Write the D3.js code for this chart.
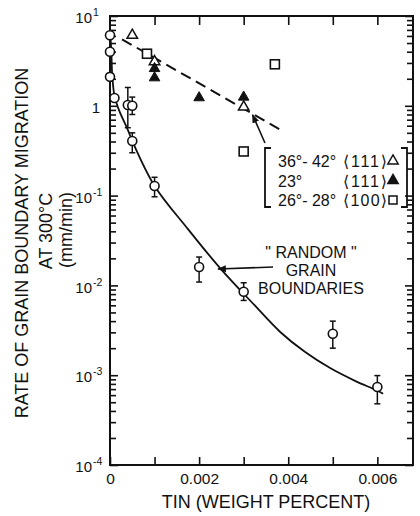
<!DOCTYPE html>
<html>
<head>
<meta charset="utf-8">
<script src="https://cdn.jsdelivr.net/npm/d3@7"></script>
<style>
  body { margin: 0; background: #fff; }
</style>
</head>
<body>
<div id="chart"></div>
<script>
// "random" grain boundaries (open circles) with error bars
const randomX = [0, 0, 0, 0.0001, 0.0004, 0.0005, 0.0005, 0.001, 0.002, 0.003, 0.005, 0.006];
const randomY = [6.1, 4.0, 2.1, 1.22, 1.02, 1.0, 0.405, 0.128, 0.016, 0.0085, 0.0029, 0.00074];
const randomLo = [null, null, null, null, 0.57, 0.8, 0.3, 0.097, 0.0109, 0.0068, 0.0020, 0.00048];
const randomHi = [null, null, null, null, 1.6, 1.25, 0.5, 0.16, 0.0207, 0.0107, 0.0040, 0.00099];

// 36-42 deg <111> (open triangles)
const tri111X = [0.0005, 0.001, 0.003];
const tri111Y = [6.1, 3.1, 0.97];
// 23 deg <111> (filled triangles)
const fill111X = [0.001, 0.001, 0.002, 0.003];
const fill111Y = [2.6, 2.05, 1.23, 1.25];
// 26-28 deg <100> (open squares)
const sq100X = [0.00083, 0.0037, 0.003];
const sq100Y = [3.8, 2.9, 0.31];

// fitted lines
const dashX = [0.00027, 0.0038];
const dashY = [5.5, 0.55];
const curveX = [0, 0.00003, 0.00005, 0.0001, 0.0002, 0.0004, 0.0005, 0.001, 0.00173, 0.00247, 0.00326, 0.00382, 0.00438, 0.00494, 0.00551, 0.00598, 0.00613];
const curveY = [7, 4, 2.2, 1.3, 0.9, 0.54, 0.405, 0.128, 0.0436, 0.0156, 0.0059, 0.00303, 0.00181, 0.0012, 0.00086, 0.00068, 0.00062];

// ticks
const xTicks = [0, 0.001, 0.002, 0.003, 0.004, 0.005, 0.006];
const xTickLabels = ["0", "", "0.002", "", "0.004", "", "0.006"];
const yDecades = [10, 1, 0.1, 0.01, 0.001, 0.0001];
const yExponents = ["1", "", "-1", "-2", "-3", "-4"];

const width = 420, height = 516;
const font = "'Liberation Sans', Arial, Helvetica, 'DejaVu Sans', sans-serif";
const ink = "#111";

const x = d3.scaleLinear().domain([0, 0.0068]).range([110, 413]);
const y = d3.scaleLog().domain([1e-4, 10]).range([465, 16]);

const svg = d3.select("#chart").append("svg")
    .attr("width", width)
    .attr("height", height)
    .style("font-family", font);

const defs = svg.append("defs");
defs.append("marker")
    .attr("id", "arrow")
    .attr("viewBox", "0 0 10 8")
    .attr("refX", 9).attr("refY", 4)
    .attr("markerWidth", 9).attr("markerHeight", 7)
    .attr("markerUnits", "userSpaceOnUse")
    .attr("orient", "auto")
    .append("path").attr("d", "M0,0 L10,4 L0,8 z").attr("fill", ink);

// frame
svg.append("rect")
    .attr("x", x.range()[0]).attr("y", y.range()[1])
    .attr("width", x.range()[1] - x.range()[0])
    .attr("height", y.range()[0] - y.range()[1])
    .attr("fill", "none").attr("stroke", ink).attr("stroke-width", 2);

// minor log ticks
const yMinor = [];
yDecades.slice(1).forEach(d => { for (let k = 2; k <= 9; k++) yMinor.push(d * k); });

function styleAxis(g) {
    g.select(".domain").remove();
    g.selectAll(".tick line").attr("stroke", ink).attr("stroke-width", 1.6);
}

svg.append("g").attr("transform", `translate(0,${y.range()[0]})`)
    .call(d3.axisBottom(x).tickValues(xTicks).tickSizeInner(-8).tickSizeOuter(0).tickPadding(8)
        .tickFormat((d, i) => xTickLabels[i]))
    .call(styleAxis)
    .call(g => g.selectAll("text").attr("font-size", 15.5).attr("fill", ink).attr("font-family", font));

svg.append("g").attr("transform", `translate(0,${y.range()[1]})`)
    .call(d3.axisTop(x).tickValues(xTicks.slice(1)).tickSizeInner(-9).tickSizeOuter(0).tickFormat(""))
    .call(styleAxis);

[[d3.axisLeft, x.range()[0]], [d3.axisRight, x.range()[1]]].forEach(([ax, px]) => {
    svg.append("g").attr("transform", `translate(${px},0)`)
        .call(ax(y).tickValues(yMinor).tickSizeInner(-6).tickSizeOuter(0).tickFormat(""))
        .call(styleAxis);
    svg.append("g").attr("transform", `translate(${px},0)`)
        .call(ax(y).tickValues(yDecades).tickSizeInner(-8).tickSizeOuter(0).tickFormat(""))
        .call(styleAxis);
});

// y tick labels: 10 with superscript exponent
const yLab = svg.append("g").attr("fill", ink)
    .selectAll("g").data(yDecades).join("g")
    .attr("transform", d => `translate(0,${y(d)})`);
yLab.append("text")
    .attr("x", (d, i) => yExponents[i] ? 92 : 100)
    .attr("y", 2).attr("dy", "0.35em")
    .attr("text-anchor", "end").attr("font-size", 15)
    .text((d, i) => yExponents[i] ? "10" : "1");
yLab.append("text")
    .attr("x", 93).attr("y", -3.5).attr("dy", "0.35em")
    .attr("font-size", 10.5)
    .text((d, i) => yExponents[i]);

// axis titles
svg.append("text")
    .attr("x", 266).attr("y", 508)
    .attr("text-anchor", "middle").attr("font-size", 18).attr("fill", ink)
    .text("TIN (WEIGHT PERCENT)");

const yTitles = [["RATE OF GRAIN BOUNDARY MIGRATION", 22, 243], ["AT 300\u00B0C", 46, 231], ["(mm/min)", 66, 230]];
svg.append("g").selectAll("text").data(yTitles).join("text")
    .attr("transform", d => `translate(${d[1]},${d[2]}) rotate(-90)`)
    .attr("text-anchor", "middle").attr("dy", "0.35em")
    .attr("font-size", 18).attr("fill", ink)
    .text(d => d[0]);

// fitted curve and dashed line
svg.append("path")
    .datum(curveX.map((v, i) => [v, curveY[i]]))
    .attr("d", d3.line().x(d => x(d[0])).y(d => y(d[1])).curve(d3.curveCatmullRom.alpha(0.5)))
    .attr("fill", "none").attr("stroke", ink).attr("stroke-width", 1.8);
svg.append("path")
    .datum(dashX.map((v, i) => [v, dashY[i]]))
    .attr("d", d3.line().x(d => x(d[0])).y(d => y(d[1])))
    .attr("fill", "none").attr("stroke", ink).attr("stroke-width", 2)
    .attr("stroke-dasharray", "11,6");

// error bars
const eb = svg.append("g").attr("stroke", ink).attr("stroke-width", 1.5);
randomX.forEach((xv, i) => {
    if (randomLo[i] == null) return;
    const px = x(xv);
    eb.append("line").attr("x1", px).attr("x2", px).attr("y1", y(randomLo[i])).attr("y2", y(randomHi[i]));
    [randomLo[i], randomHi[i]].forEach(v => {
        eb.append("line").attr("x1", px - 3).attr("x2", px + 3).attr("y1", y(v)).attr("y2", y(v));
    });
});

// markers
svg.append("g").selectAll("circle").data(randomX).join("circle")
    .attr("cx", d => x(d)).attr("cy", (d, i) => y(randomY[i])).attr("r", 4.5)
    .attr("fill", "#fff").attr("stroke", ink).attr("stroke-width", 1.6);

const triSym = d3.symbol(d3.symbolTriangle, 48);
svg.append("g").selectAll("path").data(tri111X).join("path")
    .attr("transform", (d, i) => `translate(${x(d)},${y(tri111Y[i])})`)
    .attr("d", triSym).attr("fill", "#fff").attr("stroke", ink).attr("stroke-width", 1.5);
svg.append("g").selectAll("path").data(fill111X).join("path")
    .attr("transform", (d, i) => `translate(${x(d)},${y(fill111Y[i])})`)
    .attr("d", triSym).attr("fill", ink).attr("stroke", ink).attr("stroke-width", 1);
svg.append("g").selectAll("rect").data(sq100X).join("rect")
    .attr("x", d => x(d) - 4.5).attr("y", (d, i) => y(sq100Y[i]) - 4.5)
    .attr("width", 9).attr("height", 9)
    .attr("fill", "#fff").attr("stroke", ink).attr("stroke-width", 1.6);

// "RANDOM" annotation
const ann = svg.append("g").attr("fill", ink).attr("font-size", 16).attr("text-anchor", "middle");
["\" RANDOM \"", "GRAIN", "BOUNDARIES"].forEach((t, i) => {
    ann.append("text").attr("x", 311).attr("y", 258 + i * 18).text(t);
});
svg.append("line")
    .attr("x1", 273).attr("y1", 267).attr("x2", 218).attr("y2", 269)
    .attr("stroke", ink).attr("stroke-width", 1.6).attr("marker-end", "url(#arrow)");

// legend leader arrow to dashed line
const tipX = 0.0032;
const tipT = (tipX - dashX[0]) / (dashX[1] - dashX[0]);
const tipY = Math.pow(10, Math.log10(dashY[0]) + tipT * (Math.log10(dashY[1]) - Math.log10(dashY[0])));
svg.append("line")
    .attr("x1", 265).attr("y1", 143).attr("x2", x(tipX)).attr("y2", y(tipY) + 1)
    .attr("stroke", ink).attr("stroke-width", 1.6).attr("marker-end", "url(#arrow)");

// legend with brackets
const leg = svg.append("g");
leg.append("path")
    .attr("d", "M271,148 H265 V207 H271 M401,148 H407 V207 H401")
    .attr("fill", "none").attr("stroke", ink).attr("stroke-width", 1.8);
const legRows = [
    ["36\u00B0- 42\u00B0", "\u27E8111\u27E9", "triOpen"],
    ["23\u00B0", "\u27E8111\u27E9", "triFill"],
    ["26\u00B0- 28\u00B0", "\u27E8100\u27E9", "square"]
];
legRows.forEach((r, i) => {
    const by = 167 + i * 19.5;
    leg.append("text").attr("x", 278).attr("y", by).attr("font-size", 16).attr("fill", ink).text(r[0]);
    leg.append("text").attr("x", 343).attr("y", by)
        .attr("font-size", 16).attr("fill", ink).attr("textLength", 44).text(r[1]);
    const cy = by - 6;
    if (r[2] === "square") {
        leg.append("rect").attr("x", 389).attr("y", cy - 4).attr("width", 8).attr("height", 8)
            .attr("fill", "#fff").attr("stroke", ink).attr("stroke-width", 1.5);
    } else {
        leg.append("path").attr("transform", `translate(393,${cy})`).attr("d", triSym)
            .attr("fill", r[2] === "triFill" ? ink : "#fff").attr("stroke", ink).attr("stroke-width", 1.4);
    }
});
</script>
</body>
</html>
